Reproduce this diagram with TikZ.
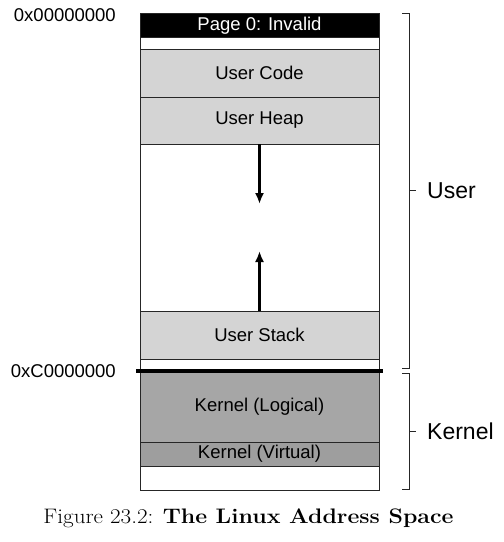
\documentclass[tikz,border=0pt]{standalone}
\usepackage{graphicx}
\usepackage{fontspec}
\newfontfamily\arialf{Liberation Sans}
\usetikzlibrary{arrows.meta}
\definecolor{userfill}{gray}{0.83}
\definecolor{kernfill}{gray}{0.65}
\definecolor{kvirtfill}{gray}{0.62}
\tikzset{
  region/.style={draw=black!85, line width=0.8pt, minimum width=239pt, inner sep=0pt, font=\arialf\fontsize{18.5}{20}\selectfont},
  addr/.style={anchor=east, inner sep=0pt, font=\arialf\fontsize{18.5}{20}\selectfont},
  biglabel/.style={anchor=west, inner sep=0pt, font=\arialf\fontsize{23}{26}\selectfont},
  brace/.style={draw=black!85, line width=0.8pt},
  growarrow/.style={line width=3pt, -{Latex[length=11pt,width=9pt]}},
}
\begin{document}
\begin{tikzpicture}[x=1pt,y=-1pt]
\useasboundingbox (0,0) rectangle (504,542);
% outer frame
\node[region, minimum height=477pt] (frame) at (259.5,251.5) {};
% regions
\node[region, fill=black, text=white, minimum height=24.7pt] (page0) at (259.5,25.35) {Page 0: Invalid};
\node[region, fill=userfill, minimum height=48pt] (code) at (259.5,73) {User Code};
\node[region, fill=userfill, minimum height=47pt] (heap) at (259.5,120.5) {User Heap};
\node[region, fill=userfill, minimum height=48pt] (stack) at (259.5,335) {User Stack};
\node[region, fill=kernfill, minimum height=71pt] (klog) at (259.5,406.5) {Kernel (Logical)};
\node[region, fill=kvirtfill, minimum height=24pt] (kvirt) at (259.5,454) {Kernel (Virtual)};
% boundary line
\coordinate (bl) at (136,371);
\coordinate (br) at (383,371);
\draw[line width=3.5pt] (bl) -- (br);
% growth arrows
\coordinate (heaptip) at (259.5,204);
\coordinate (stacktip) at (259.5,251);
\draw[growarrow] (heap.south) -- (heaptip);
\draw[growarrow] (stack.north) -- (stacktip);
% address labels
\node[addr] (a0) at (116,15) {0x00000000};
\node[addr] (ac) at (116,371) {0xC0000000};
% brackets
\coordinate (ut1) at (402,13);
\coordinate (ut2) at (409,13);
\coordinate (ub1) at (409,368);
\coordinate (ub2) at (402,368);
\coordinate (um1) at (409,190.5);
\coordinate (um2) at (415.5,190.5);
\draw[brace] (ut1) -- (ut2) -- (ub1) -- (ub2);
\draw[brace] (um1) -- (um2);
\coordinate (kt1) at (402,373.5);
\coordinate (kt2) at (409,373.5);
\coordinate (kb1) at (409,489);
\coordinate (kb2) at (402,489);
\coordinate (km1) at (409,431);
\coordinate (km2) at (415.5,431);
\draw[brace] (kt1) -- (kt2) -- (kb1) -- (kb2);
\draw[brace] (km1) -- (km2);
\node[biglabel] (userlbl) at (427,191) {User};
\node[biglabel] (kernlbl) at (427,431) {Kernel};
% caption
\node[inner sep=0pt, font=\fontsize{21}{24}\selectfont, text=black] (cap) at (248.5,518.5) {\scalebox{1.1}[1]{Figure 23.2: \textbf{The Linux Address Space}}};
\end{tikzpicture}
\end{document}
